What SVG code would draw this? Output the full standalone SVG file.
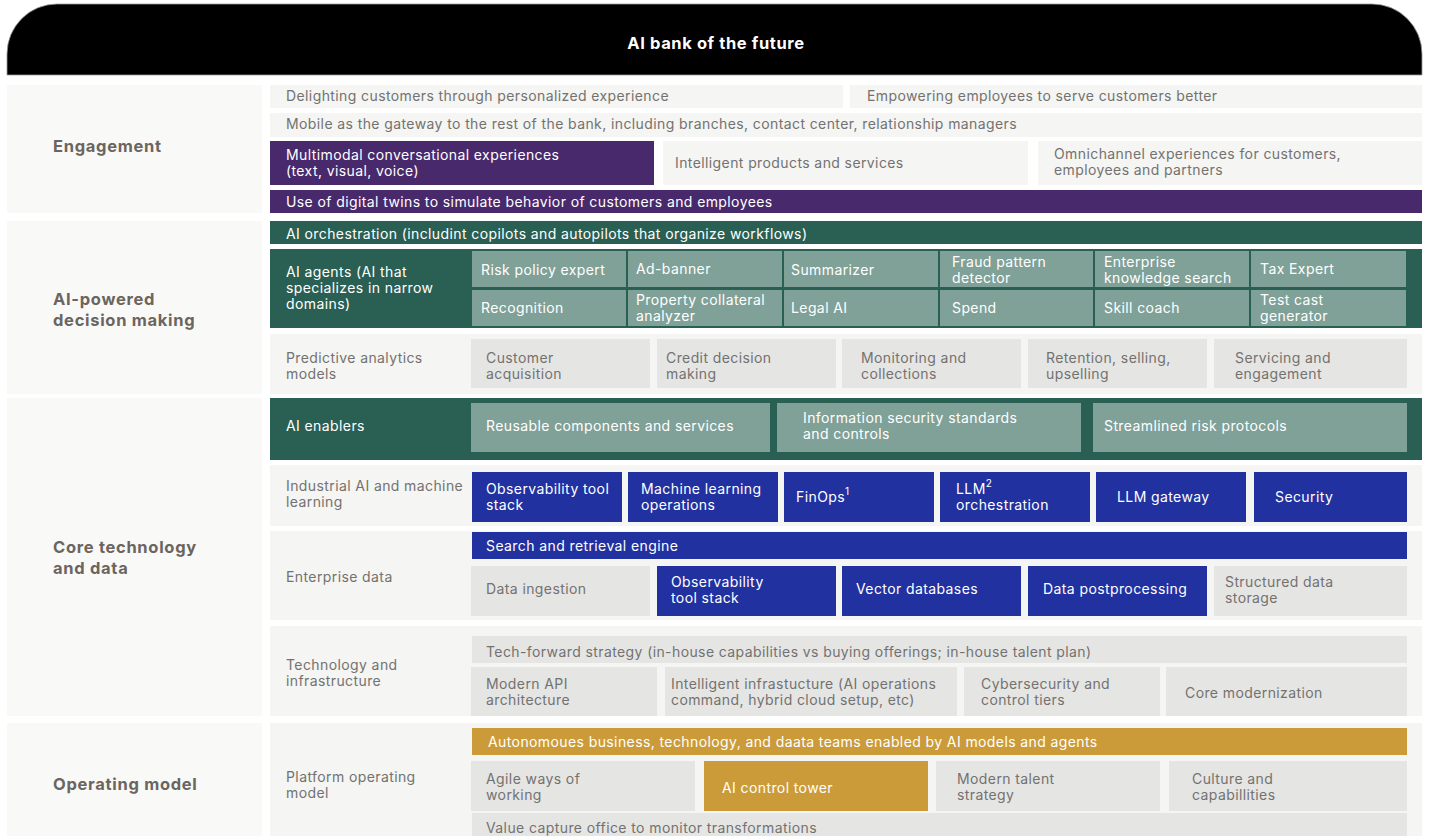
<svg xmlns="http://www.w3.org/2000/svg" width="1433" height="836" viewBox="0 0 1433 836">
  <style>
    text { font-family: Inter, "DejaVu Sans", sans-serif; font-size: 14px; letter-spacing: 0.4px; fill: #737270; }
    .sec { font-size: 16.5px; font-weight: 700; letter-spacing: 0.7px; fill: #6b655f; }
    .w { fill: #ffffff; }
    .title { font-size: 16.5px; font-weight: 700; letter-spacing: 0.6px; fill: #ffffff; }
    .side { fill: #f9f9f7; }
    .row { fill: #f5f5f3; }
    .grey { fill: #e5e5e4; }
    .purple { fill: #48296c; }
    .green { fill: #2a5f53; }
    .teal { fill: #7fa198; }
    .blue { fill: #2131a0; }
    .gold { fill: #cb9b39; }
    .sup { font-size: 10px; letter-spacing: 0; }
  </style>

  <!-- title banner -->
  <g id="header">
    <path d="M7,75 V54 A50,50 0 0 1 57,4 H1372 A50,50 0 0 1 1422,54 V75 Z" fill="#000" stroke="#9a9a9a" stroke-width="0.8"/>
    <text class="title" x="716" y="49" text-anchor="middle">AI bank of the future</text>
  </g>

  <!-- section: Engagement -->
  <g id="engagement">
    <rect class="side" x="7" y="85" width="255" height="128"/>
    <text class="sec" x="53" y="152">Engagement</text>
    <g id="delighting"><rect class="row" x="270" y="85" width="573" height="23"/><text x="286" y="101">Delighting customers through personalized experience</text></g>
    <g id="empowering"><rect class="row" x="850" y="85" width="572" height="23"/><text x="867" y="101">Empowering employees to serve customers better</text></g>
    <g id="mobile"><rect class="row" x="270" y="113" width="1152" height="24"/><text x="286" y="129">Mobile as the gateway to the rest of the bank, including branches, contact center, relationship managers</text></g>
    <g id="multimodal"><rect class="purple" x="270" y="141" width="384" height="44"/><text class="w" x="286" y="160">Multimodal conversational experiences<tspan x="286" y="176">(text, visual, voice)</tspan></text></g>
    <g id="intelligent-products"><rect class="row" x="663" y="141" width="365" height="44"/><text x="675" y="168">Intelligent products and services</text></g>
    <g id="omnichannel"><rect class="row" x="1038" y="141" width="384" height="44"/><text x="1054" y="159">Omnichannel experiences for customers,<tspan x="1054" y="175">employees and partners</tspan></text></g>
    <g id="digital-twins"><rect class="purple" x="270" y="190" width="1152" height="23"/><text class="w" x="286" y="207">Use of digital twins to simulate behavior of customers and employees</text></g>
  </g>

  <!-- section: AI-powered decision making -->
  <g id="ai-decision">
    <rect class="side" x="7" y="221" width="255" height="173"/>
    <text class="sec" x="53" y="305">AI-powered<tspan x="53" y="326">decision making</tspan></text>
    <g id="orchestration"><rect class="green" x="270" y="221" width="1152" height="23"/><text class="w" x="286" y="239">AI orchestration (includint copilots and autopilots that organize workflows)</text></g>
    <g id="agents">
      <rect class="green" x="270" y="249" width="1152" height="79"/>
      <text class="w" x="286" y="277">AI agents (AI that<tspan x="286" y="293">specializes in narrow</tspan><tspan x="286" y="309">domains)</tspan></text>
      <g id="agent-risk"><rect class="teal" x="472" y="251" width="154" height="36"/><text class="w" x="481" y="275">Risk policy expert</text></g>
      <g id="agent-ad"><rect class="teal" x="628" y="251" width="154" height="36"/><text class="w" x="636" y="274">Ad-banner</text></g>
      <g id="agent-summ"><rect class="teal" x="784" y="251" width="154" height="36"/><text class="w" x="791" y="275">Summarizer</text></g>
      <g id="agent-fraud"><rect class="teal" x="940" y="251" width="153" height="36"/><text class="w" x="952" y="267">Fraud pattern<tspan x="952" y="283">detector</tspan></text></g>
      <g id="agent-eks"><rect class="teal" x="1095" y="251" width="154" height="36"/><text class="w" x="1104" y="267">Enterprise<tspan x="1104" y="283">knowledge search</tspan></text></g>
      <g id="agent-tax"><rect class="teal" x="1251" y="251" width="155" height="36"/><text class="w" x="1260" y="274">Tax Expert</text></g>
      <g id="agent-recog"><rect class="teal" x="472" y="290" width="154" height="36"/><text class="w" x="481" y="313">Recognition</text></g>
      <g id="agent-property"><rect class="teal" x="628" y="290" width="154" height="36"/><text class="w" x="636" y="305">Property collateral<tspan x="636" y="321">analyzer</tspan></text></g>
      <g id="agent-legal"><rect class="teal" x="784" y="290" width="154" height="36"/><text class="w" x="791" y="313">Legal AI</text></g>
      <g id="agent-spend"><rect class="teal" x="940" y="290" width="153" height="36"/><text class="w" x="952" y="313">Spend</text></g>
      <g id="agent-skill"><rect class="teal" x="1095" y="290" width="154" height="36"/><text class="w" x="1104" y="313">Skill coach</text></g>
      <g id="agent-test"><rect class="teal" x="1251" y="290" width="155" height="36"/><text class="w" x="1260" y="305">Test cast<tspan x="1260" y="321">generator</tspan></text></g>
    </g>
    <g id="predictive">
      <rect class="row" x="270" y="334" width="1152" height="60"/>
      <text x="286" y="363">Predictive analytics<tspan x="286" y="379">models</tspan></text>
      <g id="pred-acq"><rect class="grey" x="471" y="339" width="179" height="49"/><text x="486" y="363">Customer<tspan x="486" y="379">acquisition</tspan></text></g>
      <g id="pred-credit"><rect class="grey" x="657" y="339" width="179" height="49"/><text x="666" y="363">Credit decision<tspan x="666" y="379">making</tspan></text></g>
      <g id="pred-monitor"><rect class="grey" x="842" y="339" width="179" height="49"/><text x="861" y="363">Monitoring and<tspan x="861" y="379">collections</tspan></text></g>
      <g id="pred-retention"><rect class="grey" x="1028" y="339" width="179" height="49"/><text x="1046" y="363">Retention, selling,<tspan x="1046" y="379">upselling</tspan></text></g>
      <g id="pred-servicing"><rect class="grey" x="1214" y="339" width="193" height="49"/><text x="1235" y="363">Servicing and<tspan x="1235" y="379">engagement</tspan></text></g>
    </g>
  </g>

  <!-- section: Core technology and data -->
  <g id="core-tech">
    <rect class="side" x="7" y="398" width="255" height="318"/>
    <text class="sec" x="53" y="553">Core technology<tspan x="53" y="574">and data</tspan></text>
    <g id="enablers">
      <rect class="green" x="270" y="398" width="1152" height="62"/>
      <text class="w" x="286" y="431">AI enablers</text>
      <g id="en-reusable"><rect class="teal" x="471" y="403" width="299" height="49"/><text class="w" x="486" y="431">Reusable components and services</text></g>
      <g id="en-infosec"><rect class="teal" x="777" y="403" width="304" height="49"/><text class="w" x="803" y="423">Information security standards<tspan x="803" y="439">and controls</tspan></text></g>
      <g id="en-risk"><rect class="teal" x="1093" y="403" width="314" height="49"/><text class="w" x="1104" y="431">Streamlined risk protocols</text></g>
    </g>
    <g id="industrial">
      <rect class="row" x="270" y="465" width="1152" height="61"/>
      <text x="286" y="491">Industrial AI and machine<tspan x="286" y="507">learning</tspan></text>
      <g id="ind-obs"><rect class="blue" x="472" y="472" width="150" height="50"/><text class="w" x="486" y="494">Observability tool<tspan x="486" y="510">stack</tspan></text></g>
      <g id="ind-mlops"><rect class="blue" x="628" y="472" width="150" height="50"/><text class="w" x="641" y="494">Machine learning<tspan x="641" y="510">operations</tspan></text></g>
      <g id="ind-finops"><rect class="blue" x="784" y="472" width="150" height="50"/><text class="w" x="796" y="502">FinOps<tspan class="sup" dy="-7">1</tspan></text></g>
      <g id="ind-llm"><rect class="blue" x="940" y="472" width="150" height="50"/><text class="w" x="956" y="494">LLM<tspan class="sup" dy="-7">2</tspan><tspan x="956" y="510">orchestration</tspan></text></g>
      <g id="ind-gateway"><rect class="blue" x="1096" y="472" width="150" height="50"/><text class="w" x="1117" y="502">LLM gateway</text></g>
      <g id="ind-security"><rect class="blue" x="1254" y="472" width="153" height="50"/><text class="w" x="1275" y="502">Security</text></g>
    </g>
    <g id="enterprise-data">
      <rect class="row" x="270" y="531" width="1152" height="89"/>
      <text x="286" y="582">Enterprise data</text>
      <g id="ed-search"><rect class="blue" x="472" y="532" width="935" height="27"/><text class="w" x="486" y="551">Search and retrieval engine</text></g>
      <g id="ed-ingest"><rect class="grey" x="471" y="566" width="179" height="50"/><text x="486" y="594">Data ingestion</text></g>
      <g id="ed-obs"><rect class="blue" x="657" y="566" width="179" height="50"/><text class="w" x="671" y="587">Observability<tspan x="671" y="603">tool stack</tspan></text></g>
      <g id="ed-vector"><rect class="blue" x="842" y="566" width="179" height="50"/><text class="w" x="856" y="594">Vector databases</text></g>
      <g id="ed-post"><rect class="blue" x="1028" y="566" width="179" height="50"/><text class="w" x="1043" y="594">Data postprocessing</text></g>
      <g id="ed-struct"><rect class="grey" x="1214" y="566" width="193" height="50"/><text x="1225" y="587">Structured data<tspan x="1225" y="603">storage</tspan></text></g>
    </g>
    <g id="tech-infra">
      <rect class="row" x="270" y="626" width="1152" height="90"/>
      <text x="286" y="670">Technology and<tspan x="286" y="686">infrastructure</tspan></text>
      <g id="ti-strategy"><rect class="grey" x="472" y="636" width="935" height="27"/><text x="486" y="657">Tech-forward strategy (in-house capabilities vs buying offerings; in-house talent plan)</text></g>
      <g id="ti-api"><rect class="grey" x="471" y="667" width="186" height="49"/><text x="486" y="689">Modern API<tspan x="486" y="705">architecture</tspan></text></g>
      <g id="ti-infra"><rect class="grey" x="665" y="667" width="292" height="49"/><text x="671" y="689">Intelligent infrastucture (AI operations<tspan x="671" y="705">command, hybrid cloud setup, etc)</tspan></text></g>
      <g id="ti-cyber"><rect class="grey" x="964" y="667" width="196" height="49"/><text x="981" y="689">Cybersecurity and<tspan x="981" y="705">control tiers</tspan></text></g>
      <g id="ti-core"><rect class="grey" x="1166" y="667" width="241" height="49"/><text x="1185" y="698">Core modernization</text></g>
    </g>
  </g>

  <!-- section: Operating model -->
  <g id="operating-model">
    <rect class="side" x="7" y="723" width="255" height="113"/>
    <text class="sec" x="53" y="790">Operating model</text>
    <g id="platform">
      <rect class="row" x="270" y="723" width="1152" height="113"/>
      <text x="286" y="782">Platform operating<tspan x="286" y="798">model</tspan></text>
      <g id="op-teams"><rect class="gold" x="472" y="728" width="935" height="27"/><text class="w" x="488" y="747">Autonomoues business, technology, and daata teams enabled by AI models and agents</text></g>
      <g id="op-agile"><rect class="grey" x="471" y="761" width="224" height="50"/><text x="486" y="784">Agile ways of<tspan x="486" y="800">working</tspan></text></g>
      <g id="op-tower"><rect class="gold" x="704" y="761" width="224" height="50"/><text class="w" x="722" y="793">AI control tower</text></g>
      <g id="op-talent"><rect class="grey" x="936" y="761" width="224" height="50"/><text x="957" y="784">Modern talent<tspan x="957" y="800">strategy</tspan></text></g>
      <g id="op-culture"><rect class="grey" x="1169" y="761" width="238" height="50"/><text x="1192" y="784">Culture and<tspan x="1192" y="800">capabillities</tspan></text></g>
      <g id="op-value"><rect class="grey" x="472" y="813" width="935" height="30"/><text x="486" y="833">Value capture office to monitor transformations</text></g>
    </g>
  </g>

  <g id="connectors"/>
</svg>
